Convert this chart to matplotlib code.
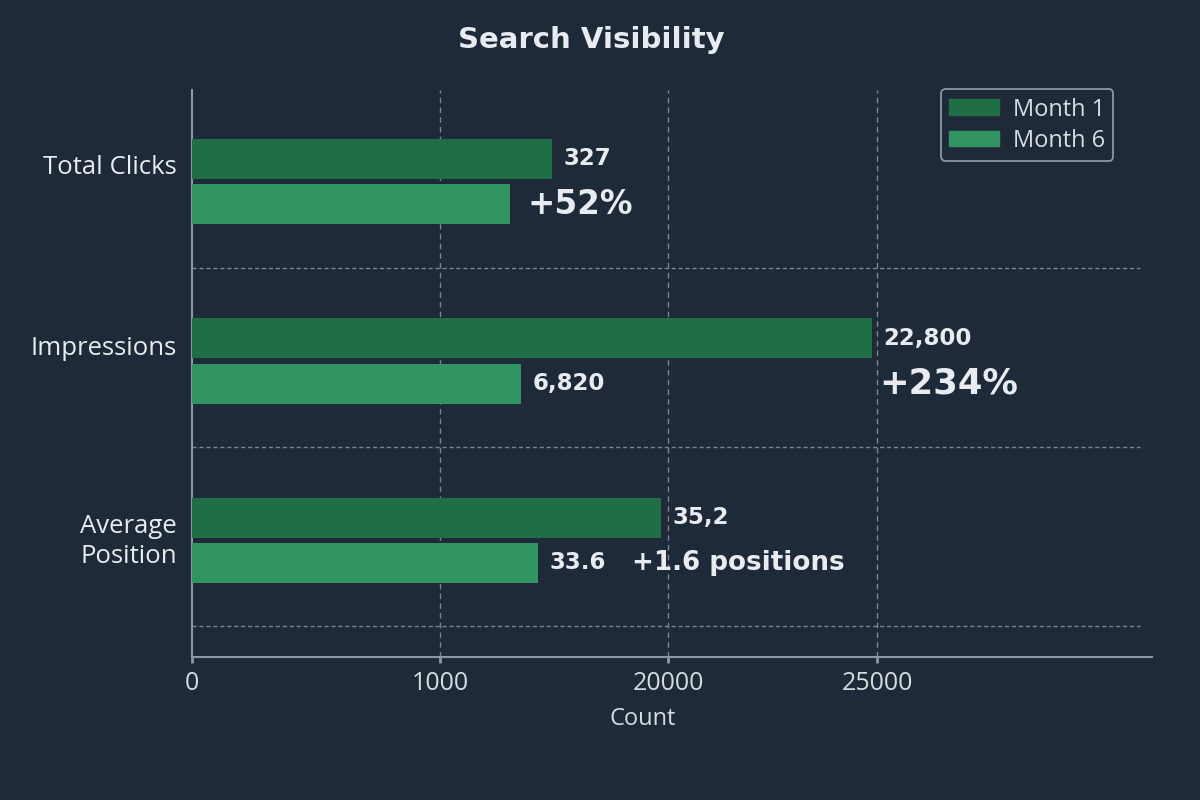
import numpy as np
import matplotlib
matplotlib.use("Agg")
import matplotlib.pyplot as plt
from matplotlib.patches import Patch

# ---------------- data ----------------
categories = ["Total Clicks", "Impressions", "Average\nPosition"]
series_names = ["Month 1", "Month 6"]
# bar lengths read against the chart's own (non-linear) Count axis
month1_bar = [10330, 24880, 19420]
month6_bar = [6830, 7750, 9170]
month1_labels = ["327", "22,800", "35,2"]
month6_labels = ["", "6,820", "33.6"]
change_labels = ["+52%", "+234%", "+1.6 positions"]
x_ticks = [0, 1000, 20000, 25000]
x_tick_labels = ["0", "1000", "20000", "25000"]
x_max = 31580

# ---------------- style ----------------
BG = "#1f2a38"
C1 = "#1f6e46"
C2 = "#329462"
TXT = "#e8ebef"
AX = "#8d98a6"
GRID = "#7a8593"
plt.rcParams["font.family"] = ["Open Sans", "DejaVu Sans"]
BOLD = ["DejaVu Sans"]
label_shift = [0.095, 0.084, 0.022]   # vertical nudge of category labels

# piecewise-linear axis (knots in count units -> relative axis position)
knot_v = np.array([-1e6, 0, 1000, 20000, 25000, 1e6])
knot_p = np.array([-1e6 * 0.2583 / 1000, 0, 0.2583, 0.4958, 0.7135,
                   0.7135 + (1e6 - 25000) * (0.2865 / 6580)])


def fwd(v):
    return np.interp(v, knot_v, knot_p)


def inv(p):
    return np.interp(p, knot_p, knot_v)


fig = plt.figure(figsize=(12, 8), dpi=100, facecolor=BG)
ax = fig.add_axes([0.16, 0.17875, 0.80, 0.70875], facecolor=BG)
ax.set_xscale("function", functions=(fwd, inv))

y = np.arange(len(categories))
h = 0.223
off = 0.126
ax.barh(y - off, month1_bar, height=h, color=C1, label=series_names[0], zorder=3)
ax.barh(y + off, month6_bar, height=h, color=C2, label=series_names[1], zorder=3)

ax.set_xlim(0, x_max)
ax.set_ylim(2.65, -0.51)

ax.set_xticks(x_ticks)
ax.set_xticklabels(x_tick_labels)
ax.set_yticks(y - np.array(label_shift))
ax.set_yticklabels(categories)

ax.tick_params(axis="x", colors=AX, labelcolor="#d5dae0", labelsize=18,
               length=4, width=2, pad=6)
ax.tick_params(axis="y", length=0, labelcolor=TXT, labelsize=18.5, pad=11)
for lab in ax.get_yticklabels():
    lab.set_multialignment("center")
    lab.set_linespacing(1.25)

for s in ["top", "right"]:
    ax.spines[s].set_visible(False)
for s in ["left", "bottom"]:
    ax.spines[s].set_color(AX)
    ax.spines[s].set_linewidth(1.5)

# grid
for xv in x_ticks[1:]:
    ax.axvline(xv, color=GRID, lw=1, ls=(0, (4, 3)), zorder=1)
for yv in y + 0.48:
    ax.axhline(yv, xmin=0, xmax=0.988, color=GRID, lw=1, ls=(0, (3, 2)), zorder=1)

ax.set_xlabel("Count", color="#d5dae0", fontsize=17, labelpad=8)
ax.xaxis.set_label_coords(0.469, -0.089)

# value labels
for i in range(len(categories)):
    if month1_labels[i]:
        ax.annotate(month1_labels[i], (month1_bar[i], y[i] - off), xytext=(8, 0),
                    textcoords="offset points", va="center", ha="left",
                    color=TXT, fontsize=16.5, fontweight="bold", family=BOLD, zorder=4)
    if month6_labels[i]:
        ax.annotate(month6_labels[i], (month6_bar[i], y[i] + off), xytext=(8.5, 0),
                    textcoords="offset points", va="center", ha="left",
                    color=TXT, fontsize=16.5, fontweight="bold", family=BOLD, zorder=4)

# change labels
ax.annotate(change_labels[0], (month6_bar[0], y[0] + off), xytext=(13, 0),
            textcoords="offset points", va="center", ha="left",
            color=TXT, fontsize=23.5, fontweight="bold", family=BOLD)
ax.annotate(change_labels[1], (month1_bar[1], y[1] + off), xytext=(5.5, 0),
            textcoords="offset points", va="center", ha="left",
            color=TXT, fontsize=25.5, fontweight="bold", family=BOLD)
ax.annotate(change_labels[2], (month6_bar[2], y[2] + off), xytext=(68, 0),
            textcoords="offset points", va="center", ha="left",
            color=TXT, fontsize=18.8, fontweight="bold", family=BOLD)

leg = ax.legend(handles=[Patch(color=C1, label=series_names[0]),
                         Patch(color=C2, label=series_names[1])],
                loc="upper right", bbox_to_anchor=(0.972, 1.022), fontsize=17,
                frameon=True, facecolor=BG, edgecolor=AX, labelcolor="#d8dde3",
                handlelength=2.1, handleheight=0.65, borderpad=0.35, labelspacing=0.3,
                handletextpad=0.6, fancybox=True, framealpha=1.0,
                borderaxespad=0.5)
leg.get_frame().set_linewidth(1.3)

fig.text(0.4925, 0.950, "Search Visibility", color=TXT, fontsize=21,
         fontweight="bold", family=BOLD, ha="center", va="center")

fig.savefig("out.png", dpi=100, facecolor=BG)
